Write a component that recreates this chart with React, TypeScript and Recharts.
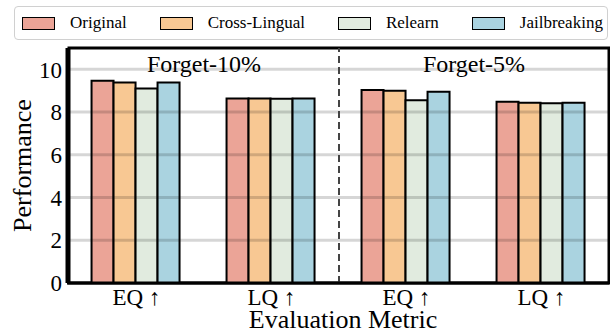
import {
  Bar,
  BarChart,
  Label,
  ReferenceArea,
  ReferenceLine,
  XAxis,
  YAxis
} from "recharts";

const metrics = ["EQ ↑", "LQ ↑", "EQ ↑", "LQ ↑"];
const settings = ["Forget-10%", "Forget-10%", "Forget-5%", "Forget-5%"];
const original = [9.47, 8.64, 9.03, 8.48];
const crossLingual = [9.39, 8.64, 9.0, 8.44];
const relearn = [9.11, 8.63, 8.56, 8.41];
const jailbreaking = [9.39, 8.64, 8.95, 8.44];
const yTicks = [0, 2, 4, 6, 8, 10];

const series = [
  { key: "original", name: "Original", color: "#eba497" },
  { key: "crossLingual", name: "Cross-Lingual", color: "#f8c893" },
  { key: "relearn", name: "Relearn", color: "#e1ebdf" },
  { key: "jailbreaking", name: "Jailbreaking", color: "#aad3e0" }
];

const data = metrics.map((metric, i) => ({
  key: `${settings[i]}|${metric}`,
  original: original[i],
  crossLingual: crossLingual[i],
  relearn: relearn[i],
  jailbreaking: jailbreaking[i]
}));

const font = "'Liberation Serif', 'Times New Roman', Times, serif";
const tickStyle = { fontSize: 23, fill: "#000", fontFamily: font };

function LegendBox() {
  return (
    <div
      style={{
        position: "absolute",
        left: 14,
        top: 6,
        width: 594,
        height: 34,
        boxSizing: "border-box",
        border: "1px solid #d0d0d0",
        borderRadius: 4,
        background: "#fff",
        display: "flex",
        alignItems: "center",
        paddingLeft: 7,
        fontFamily: font,
        fontSize: 17,
        color: "#000",
        whiteSpace: "nowrap",
        zIndex: 2
      }}
    >
      {series.map((s) => (
        <div key={s.key} style={{ display: "flex", alignItems: "center", marginRight: 33 }}>
          <span
            style={{
              display: "inline-block",
              width: 33,
              height: 13,
              boxSizing: "border-box",
              background: s.color,
              border: "1.5px solid #000",
              marginRight: 15
            }}
          />
          <span>{s.name}</span>
        </div>
      ))}
    </div>
  );
}

export default function App() {
  const cats = data.map((d) => d.key);
  return (
    <div style={{ position: "absolute", left: 0, top: 0, width: 610, height: 334, background: "#fff", fontFamily: font }}>
      <LegendBox />
      <BarChart
        width={610}
        height={334}
        data={data}
        margin={{ top: 48, right: 1, bottom: 0, left: 0 }}
        barCategoryGap="16.7%"
        barGap={0}
        style={{ fontFamily: font }}
      >
        <XAxis
          dataKey="key"
          height={51}
          padding={{ left: 2, right: 0 }}
          tickFormatter={(v: string) => v.split("|")[1]}
          tick={tickStyle}
          tickLine={false}
          tickSize={5}
          tickMargin={1}
          axisLine={{ stroke: "#000", strokeWidth: 3 }}
        >
          <Label
            value="Evaluation Metric"
            position="insideBottom"
            offset={6}
            dx={5}
            style={{ fontSize: 26, fill: "#000", fontFamily: font }}
          />
        </XAxis>
        <YAxis
          width={67}
          domain={[0, 11]}
          ticks={yTicks}
          tick={tickStyle}
          tickLine={false}
          tickSize={3}
          tickMargin={2}
          axisLine={{ stroke: "#000", strokeWidth: 3 }}
        >
          <Label
            content={(props: any) => {
              const vb = props.viewBox || { x: 0, y: 48, width: 67, height: 235 };
              const cx = vb.x + 31;
              const cy = vb.y + vb.height / 2;
              return (
                <text
                  x={cx}
                  y={cy}
                  transform={`rotate(-90, ${cx}, ${cy})`}
                  textAnchor="middle"
                  style={{ fontSize: 26, fontFamily: font, fill: "#000" }}
                >
                  Performance
                </text>
              );
            }}
          />
        </YAxis>
        {series.map((s) => (
          <Bar
            key={s.key}
            dataKey={s.key}
            name={s.name}
            fill={s.color}
            stroke="#000"
            strokeWidth={2}
            isAnimationActive={false}
          />
        ))}
        {yTicks.slice(1).map((t) => (
          <ReferenceLine key={t} y={t} stroke="#000" strokeOpacity={0.16} strokeWidth={3} />
        ))}
        <ReferenceArea
          x1={cats[0]}
          x2={cats[1]}
          y1={0}
          y2={11}
          fill="none"
          fillOpacity={0}
          stroke="none"
          label={{
            value: "Forget-10%",
            position: "insideTop",
            offset: 7,
            style: { fontSize: 24, fill: "#000", fontFamily: font }
          }}
        />
        <ReferenceArea
          x1={cats[2]}
          x2={cats[3]}
          y1={0}
          y2={11}
          fill="none"
          fillOpacity={0}
          stroke="none"
          label={{
            value: "Forget-5%",
            position: "insideTop",
            offset: 7,
            style: { fontSize: 24, fill: "#000", fontFamily: font }
          }}
        />
        <ReferenceLine
          x={cats[2]}
          position="start"
          stroke="#444"
          strokeWidth={2}
          strokeDasharray="7 4"
        />
        <ReferenceArea
          x1={cats[0]}
          x2={cats[3]}
          y1={0}
          y2={11}
          fill="none"
          fillOpacity={0}
          stroke="#000"
          strokeWidth={3}
        />
      </BarChart>
    </div>
  );
}
